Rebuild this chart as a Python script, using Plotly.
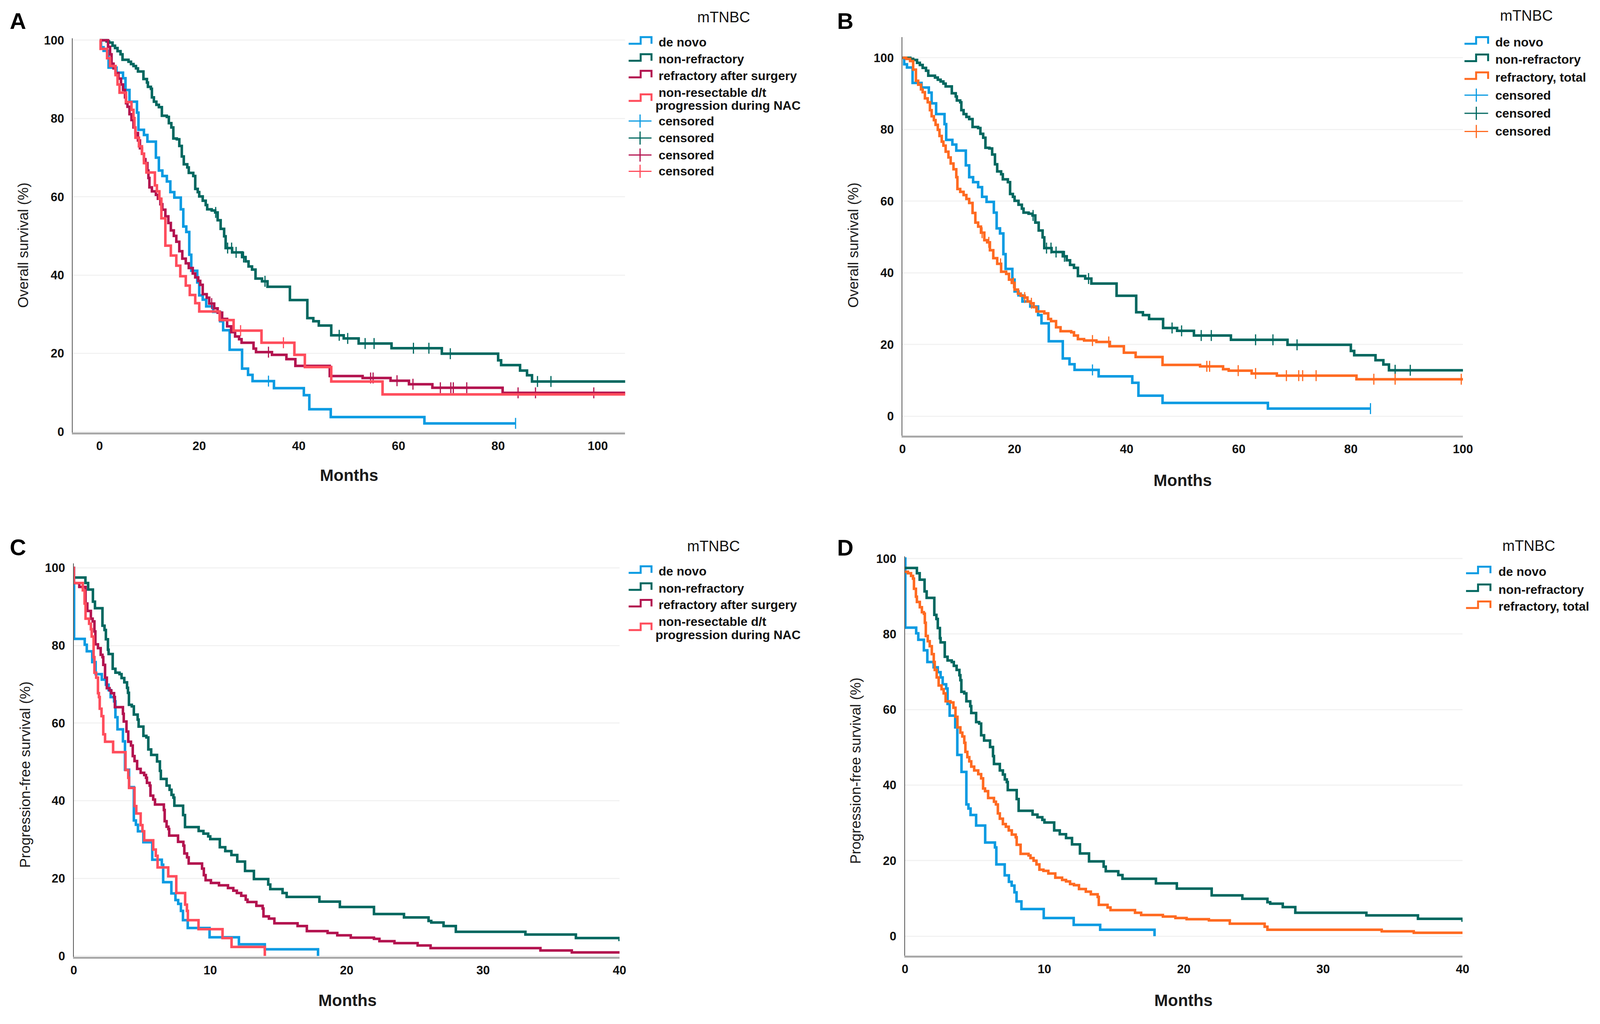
import plotly.graph_objects as go

W, H = 4138, 2621

# ---------------- DATA ----------------
# Overall survival (months, %)
os_denovo_t = [0, 0.3, 0.8, 1.8, 3.4, 4.7, 5.2, 6.0, 7.5, 7.8, 8.9, 9.6, 11.3, 11.9, 12.6, 13.5, 14.2, 15.0, 16.3, 16.8,
               17.4, 18.0, 18.4, 19.6, 20.0, 20.7, 21.4, 22.8, 24.2, 24.8, 26.1, 28.6, 29.8, 30.7, 35.0, 41.0, 42.1, 46.4,
               65.2, 83.5]
os_denovo_s = [100, 98.2, 97.3, 93.0, 91.7, 90.3, 87.3, 84.3, 81.5, 77.1, 75.8, 74.1, 70.0, 66.7, 65.3, 63.9, 61.2, 59.8,
               56.8, 52.4, 51.0, 45.2, 41.1, 38.1, 34.8, 33.7, 32.0, 30.6, 28.2, 25.9, 20.9, 16.1, 14.5, 12.9, 11.1, 9.3,
               5.7, 3.7, 2.1, 2.1]
os_denovo_cens = [33.9, 83.5]

os_nonref_t = [0, 1.4, 1.9, 2.6, 3.1, 3.6, 4.2, 4.6, 5.8, 6.3, 6.8, 7.3, 7.7, 8.8, 9.5, 9.7, 10.3, 10.5, 10.9, 11.4, 11.9,
               12.5, 13.5, 13.9, 14.4, 14.8, 15.5, 16.0, 16.5, 16.9, 17.6, 17.9, 18.8, 19.2, 19.7, 20.0, 20.7, 21.3, 21.6,
               22.5, 23.2, 23.7, 24.3, 25.0, 25.3, 26.6, 28.6, 29.3, 29.9, 30.6, 31.3, 32.6, 33.7, 38.2, 41.7, 42.9, 44.0,
               46.5, 49.0, 52.0, 58.6, 68.7, 80.0, 80.6, 84.4, 85.8, 86.8, 106]
os_nonref_s = [100, 99.7, 99.4, 98.6, 98.0, 97.2, 96.4, 95.0, 94.5, 93.9, 93.4, 92.8, 92.0, 90.1, 89.2, 88.1, 87.6, 85.4,
               84.3, 83.5, 82.9, 80.7, 80.4, 78.8, 77.7, 74.9, 74.7, 73.0, 70.3, 68.3, 67.5, 66.1, 65.3, 62.0, 61.2, 60.1,
               59.0, 57.9, 56.8, 56.5, 56.0, 54.0, 51.8, 49.9, 46.9, 45.8, 44.6, 43.5, 42.2, 41.4, 39.1, 38.4, 37.0, 33.6,
               29.0, 28.2, 27.1, 24.6, 23.8, 22.5, 21.3, 19.9, 18.2, 17.0, 15.6, 14.4, 12.8, 12.8]
os_nonref_cens = [23.3, 25.7, 26.5, 27.4, 28.9, 33.2, 48.1, 49.8, 53.3, 55.1, 63.0, 66.1, 70.4, 87.9, 90.6]

os_refsurg_t = [0, 1.7, 2.1, 2.4, 2.8, 3.2, 3.8, 4.3, 4.7, 5.1, 5.3, 5.6, 6.0, 6.4, 6.8, 7.2, 7.7, 8.1, 8.5, 8.9, 9.2, 9.6,
                9.8, 10.0, 10.5, 11.3, 11.7, 12.2, 12.6, 13.2, 13.8, 14.3, 14.9, 15.4, 16.0, 16.6, 17.3, 17.9, 18.7, 19.2,
                19.8, 20.2, 20.7, 21.5, 22.0, 23.0, 23.7, 24.6, 25.6, 26.4, 27.2, 28.0, 28.5, 30.9, 31.4, 34.6, 37.5, 39.3,
                46.2, 52.8, 58.4, 62.1, 66.8, 80.9, 106]
os_refsurg_s = [100, 98.3, 96.4, 94.0, 92.8, 91.6, 90.2, 88.7, 87.3, 85.4, 83.9, 83.0, 81.1, 79.6, 77.7, 76.3, 74.4, 72.4,
                71.0, 69.6, 68.6, 66.7, 64.8, 62.4, 61.4, 60.5, 59.5, 58.1, 56.7, 55.0, 53.3, 51.4, 50.0, 48.5, 46.1, 44.2,
                43.0, 41.8, 40.4, 39.4, 38.5, 37.5, 35.1, 34.2, 32.7, 31.5, 30.4, 28.8, 26.9, 25.4, 24.3, 23.6, 22.7, 21.2,
                20.3, 19.6, 18.5, 16.8, 14.2, 13.7, 13.0, 12.1, 11.2, 9.9, 9.9]
os_refsurg_cens = [22.5, 33.9, 54.4, 54.9, 59.7, 62.9, 68.4, 70.5, 71.0, 73.7, 84.0, 87.5, 99.2]

os_nonres_t = [0, 0.2, 1.5, 2.1, 3.2, 3.6, 4.0, 5.3, 6.4, 6.8, 7.0, 7.2, 7.9, 8.5, 8.9, 9.4, 11.1, 11.5, 12.0, 12.4, 13.2,
               14.3, 15.4, 16.2, 17.3, 18.1, 19.2, 20.0, 24.1, 26.9, 32.5, 39.1, 41.2, 46.5, 56.8, 106]
os_nonres_s = [100, 97.8, 95.4, 93.4, 91.1, 88.7, 86.6, 84.2, 82.2, 80.1, 77.7, 75.1, 72.9, 71.0, 68.6, 66.2, 62.9, 61.4,
               59.5, 54.5, 47.5, 45.0, 42.4, 39.7, 37.3, 34.9, 32.8, 30.7, 28.5, 25.8, 22.7, 19.6, 16.5, 12.8, 9.5, 9.5]
os_nonres_cens = [28.3, 36.9]

os_reftot_t = [0, 0.65, 1.35, 1.9, 2.4, 2.8, 3.3, 3.6, 4.0, 4.5, 4.9, 5.2, 5.6, 5.9, 6.3, 6.6, 7.0, 7.3, 7.7, 8.2, 8.6,
               9.1, 9.6, 9.8, 10.3, 10.9, 11.4, 11.9, 12.5, 13.0, 13.5, 14.0, 14.6, 15.1, 15.6, 16.2, 16.9, 17.6, 18.5,
               19.0, 19.5, 20.0, 20.6, 21.1, 21.8, 22.3, 22.9, 23.4, 23.9, 25.3, 26.0, 26.5, 27.4, 28.2, 30.1, 30.6, 31.3,
               32.4, 34.6, 37.0, 39.5, 41.6, 46.4, 53.1, 57.2, 58.2, 62.3, 66.8, 81.0, 106]
os_reftot_s = [100, 99.7, 99.1, 96.7, 93.6, 92.5, 91.2, 90.4, 88.7, 87.6, 85.4, 83.7, 82.6, 81.3, 79.9, 78.2, 76.6, 75.5,
               73.8, 72.2, 70.5, 68.9, 66.7, 63.4, 62.6, 61.7, 60.6, 59.5, 56.7, 54.0, 52.9, 51.2, 49.1, 48.5, 46.3, 44.1,
               42.5, 40.3, 39.7, 38.1, 37.2, 35.3, 34.2, 33.6, 33.1, 32.0, 31.5, 30.4, 29.2, 28.7, 27.1, 26.5, 24.8, 23.7,
               23.4, 22.5, 21.5, 21.1, 20.7, 19.5, 17.7, 16.5, 14.3, 13.9, 13.1, 12.7, 11.9, 11.3, 10.3, 10.3]
os_reftot_cens = [14.2, 15.4, 17.5, 19.8, 21.8, 23.0, 33.9, 36.8, 54.3, 54.8, 59.9, 63.0, 68.5, 70.7, 71.4, 73.8, 84.1,
                  87.9, 99.7]

# Progression-free survival (months, %)
pfs_denovo_t = [0, 0.02, 0.8, 0.95, 1.35, 1.6, 2.05, 2.35, 2.55, 2.7, 2.95, 3.05, 3.2, 3.6, 3.75, 4.05, 4.4, 4.55, 4.7,
                5.1, 5.75, 6.45, 6.55, 7.15, 7.45, 7.65, 7.85, 8.0, 8.35, 9.95, 12.1, 14.0, 17.9]
pfs_denovo_s = [100, 81.7, 80.2, 78.5, 75.7, 72.6, 71.2, 69.9, 68.5, 66.7, 65.6, 61.5, 58.4, 55.3, 48.0, 43.5, 34.9, 33.8,
                32.1, 29.3, 24.8, 23.5, 19.0, 16.1, 14.4, 13.4, 11.6, 9.2, 7.2, 4.8, 3.0, 1.7, 0]

pfs_nonref_t = [0, 0.85, 1.05, 1.4, 1.55, 2.1, 2.25, 2.35, 2.5, 2.55, 2.85, 3.05, 3.35, 3.5, 3.7, 3.9, 3.97, 4.04, 4.25,
                4.4, 4.68, 4.75, 5.1, 5.32, 5.46, 5.67, 6.1, 6.31, 6.38, 6.8, 7.02, 7.16, 7.3, 7.37, 8.01, 8.15, 9.15, 9.5,
                9.85, 10.0, 10.7, 11.1, 11.55, 11.98, 12.55, 13.2, 14.25, 14.4, 15.3, 15.6, 18.0, 19.5, 22.0, 24.2, 26.0,
                26.2, 27.1, 28.0, 33.1, 36.8, 40.0]
pfs_nonref_s = [97.5, 96.1, 94.4, 91.3, 89.6, 85.1, 84.0, 81.6, 78.9, 77.8, 74.0, 73.0, 72.6, 71.6, 70.5, 69.1, 67.8, 64.7,
                64.3, 62.2, 60.9, 59.1, 56.7, 56.3, 53.2, 51.8, 50.1, 47.7, 45.6, 43.9, 42.8, 41.5, 40.8, 38.7, 36.3, 33.2,
                32.2, 31.5, 30.8, 30.1, 28.0, 27.0, 26.0, 24.3, 21.9, 19.8, 18.4, 17.2, 16.2, 15.2, 14.0, 12.6, 10.8, 9.9,
                9.0, 8.6, 7.7, 6.2, 5.5, 4.6, 3.8]

pfs_refsurg_t = [0, 0.4, 0.86, 0.99, 1.25, 1.38, 1.51, 1.58, 1.77, 1.97, 2.1, 2.16, 2.29, 2.42, 2.62, 2.75, 2.95, 3.01,
                 3.6, 3.66, 3.86, 3.99, 4.19, 4.32, 4.45, 4.64, 4.9, 5.16, 5.29, 5.36, 5.56, 5.62, 5.82, 5.95, 6.6, 6.66,
                 6.8, 6.93, 6.99, 7.64, 8.03, 8.1, 8.3, 8.42, 9.4, 9.53, 9.66, 10.05, 10.64, 11.3, 11.69, 11.95, 12.27,
                 12.6, 12.73, 13.38, 13.84, 13.9, 14.3, 14.7, 16.4, 17.08, 18.6, 19.31, 20.3, 22.0, 22.4, 23.5, 25.2,
                 26.15, 34.2, 36.5, 40]
pfs_refsurg_s = [96.1, 95.1, 90.8, 88.9, 86.9, 86.2, 83.6, 80.3, 79.3, 77.6, 77.0, 75.0, 71.7, 69.0, 68.4, 67.7, 66.7,
                 64.1, 62.4, 60.4, 57.8, 55.2, 54.2, 51.5, 50.2, 48.2, 47.2, 46.6, 45.9, 44.6, 43.9, 41.3, 40.3, 39.0,
                 37.6, 34.7, 33.3, 32.7, 31.0, 29.4, 28.4, 26.4, 25.4, 23.8, 22.5, 20.8, 19.5, 18.8, 18.2, 17.5, 16.8,
                 16.2, 15.5, 14.5, 13.9, 12.9, 12.2, 10.2, 9.6, 8.4, 7.7, 6.4, 5.9, 5.3, 4.7, 4.4, 3.8, 3.3, 2.7, 2.0,
                 1.4, 0.9, 0.9]

pfs_nonres_t = [0, 0.01, 0.66, 0.79, 0.86, 1.12, 1.25, 1.31, 1.45, 1.51, 1.64, 1.77, 1.84, 1.9, 2.03, 2.16, 2.29, 2.88,
                3.79, 3.99, 4.05, 4.45, 4.58, 4.9, 5.03, 5.16, 5.82, 6.01, 6.14, 6.92, 7.51, 8.16, 8.29, 8.36, 9.14, 10.9,
                11.56, 14.0]
pfs_nonres_s = [100, 96.1, 94.2, 90.8, 86.9, 85.6, 84.2, 82.3, 77.0, 73.0, 71.7, 67.7, 66.7, 63.7, 61.8, 57.1, 55.2, 52.5,
                47.9, 45.9, 43.3, 38.6, 36.7, 33.7, 32.1, 29.8, 27.4, 25.8, 22.8, 20.5, 16.2, 13.2, 11.6, 9.2, 6.9, 4.6,
                2.3, 0]

pfs_reftot_t = [0, 0.21, 0.43, 0.57, 0.64, 0.78, 0.85, 1.06, 1.21, 1.35, 1.42, 1.49, 1.63, 1.77, 1.92, 2.06, 2.13, 2.27,
                2.41, 2.62, 2.77, 2.91, 3.26, 3.47, 3.62, 3.76, 3.97, 4.11, 4.25, 4.33, 4.47, 4.61, 4.75, 4.96, 5.25,
                5.46, 5.6, 5.74, 5.96, 6.38, 6.52, 6.66, 6.8, 7.02, 7.23, 7.44, 7.66, 7.94, 8.01, 8.29, 8.86, 9.0, 9.22,
                9.43, 9.64, 9.93, 10.28, 10.78, 11.27, 11.55, 11.84, 12.12, 12.48, 12.97, 13.33, 13.82, 13.9, 14.53,
                14.74, 16.5, 16.94, 18.5, 19.4, 20.2, 21.8, 23.3, 25.8, 26.0, 34.2, 36.5, 40]
pfs_reftot_s = [96.5, 96.1, 95.4, 94.7, 92.0, 89.9, 88.5, 87.1, 85.8, 85.4, 83.0, 79.5, 78.1, 76.8, 74.7, 72.6, 70.5, 68.5,
                66.4, 65.4, 64.3, 62.2, 61.9, 60.5, 58.1, 55.3, 53.9, 52.9, 51.2, 48.8, 47.4, 46.3, 44.9, 43.9, 42.9,
                41.8, 39.1, 38.4, 36.6, 35.6, 34.9, 32.5, 31.1, 29.7, 29.0, 28.0, 26.9, 26.2, 24.2, 21.8, 21.4, 20.7,
                20.0, 19.0, 17.6, 17.3, 16.6, 15.5, 14.9, 14.5, 13.8, 13.5, 12.5, 11.8, 11.1, 10.4, 8.3, 7.6, 6.9, 6.2,
                5.6, 5.2, 4.8, 4.5, 4.2, 3.3, 2.5, 1.7, 1.3, 0.9, 0.9]

# Labels
legend_title = "mTNBC"
labels_4 = ["de novo", "non-refractory", "refractory after surgery"]
label_nonres = ["non-resectable d/t", "progression during NAC"]
labels_3 = ["de novo", "non-refractory", "refractory, total"]
censor_label = "censored"
panel_letters = ["A", "B", "C", "D"]
os_title = "Overall survival (%)"
pfs_title = "Progression-free survival (%)"
x_title = "Months"
ticks_os_x = [0, 20, 40, 60, 80, 100]
ticks_pfs_x = [0, 10, 20, 30, 40]
ticks_y = [0, 20, 40, 60, 80, 100]

# ---------------- STYLE ----------------
BLUE = "#0A9BE2"
TEAL = "#00675F"
CRIMSON = "#B3134F"
RED = "#FF4D5C"
ORANGE = "#FF6A21"
SANS = "Liberation Sans, Arial, sans-serif"
LW = 6.5
OFF = -10  # global pixel offset (compensates page offset)

for a, b in [(os_denovo_t, os_denovo_s), (os_nonref_t, os_nonref_s), (os_refsurg_t, os_refsurg_s),
             (os_nonres_t, os_nonres_s), (os_reftot_t, os_reftot_s), (pfs_denovo_t, pfs_denovo_s),
             (pfs_nonref_t, pfs_nonref_s), (pfs_refsurg_t, pfs_refsurg_s), (pfs_nonres_t, pfs_nonres_s),
             (pfs_reftot_t, pfs_reftot_s)]:
    assert len(a) == len(b), (len(a), len(b))


def surv_at(ts, ss, t):
    v = ss[0]
    for ti, si in zip(ts, ss):
        if ti <= t:
            v = si
        else:
            break
    return v


def px(x):
    return (x + OFF) / W


def py(y):
    return 1 - (y + OFF) / H


fig = go.Figure()


def add_curve(ts, ss, color, ax, cens=None):
    xa, ya = ax
    fig.add_trace(go.Scatter(x=ts, y=ss, mode="lines", line=dict(shape="hv", color=color, width=LW),
                             xaxis=xa, yaxis=ya, showlegend=False, hoverinfo="skip"))
    if cens:
        fig.add_trace(go.Scatter(x=cens, y=[surv_at(ts, ss, c) for c in cens], mode="markers",
                                 marker=dict(symbol="line-ns", size=20, color=color, line=dict(width=3, color=color)),
                                 xaxis=xa, yaxis=ya, showlegend=False, hoverinfo="skip", cliponaxis=False))


A = ("x", "y")
add_curve(os_denovo_t, os_denovo_s, BLUE, A, os_denovo_cens)
add_curve(os_nonref_t, os_nonref_s, TEAL, A, os_nonref_cens)
add_curve(os_refsurg_t, os_refsurg_s, CRIMSON, A, os_refsurg_cens)
add_curve(os_nonres_t, os_nonres_s, RED, A, os_nonres_cens)
B = ("x2", "y2")
add_curve(os_denovo_t, os_denovo_s, BLUE, B, os_denovo_cens)
add_curve(os_nonref_t, os_nonref_s, TEAL, B, os_nonref_cens)
add_curve(os_reftot_t, os_reftot_s, ORANGE, B, os_reftot_cens)
C = ("x3", "y3")
add_curve(pfs_denovo_t, pfs_denovo_s, BLUE, C)
add_curve(pfs_nonref_t, pfs_nonref_s, TEAL, C)
add_curve(pfs_refsurg_t, pfs_refsurg_s, CRIMSON, C)
add_curve(pfs_nonres_t, pfs_nonres_s, RED, C)
D = ("x4", "y4")
add_curve(pfs_denovo_t, pfs_denovo_s, BLUE, D)
add_curve(pfs_nonref_t, pfs_nonref_s, TEAL, D)
add_curve(pfs_reftot_t, pfs_reftot_s, ORANGE, D)

tickfont = dict(family=SANS, size=31, color="#111111", weight="bold")


def dom_x(a, b):
    return [(a + OFF) / W, (b + OFF) / W]


def dom_y(bottom_px, top_px):
    return [1 - (bottom_px + OFF) / H, 1 - (top_px + OFF) / H]


def xaxis(dom, rng, ticks, anchor):
    return dict(domain=dom, range=rng, tickvals=ticks, showgrid=False, zeroline=False, showline=True,
                linecolor="#A9A9A9", linewidth=5, ticks="", tickfont=tickfont, ticklabelstandoff=3,
                anchor=anchor, fixedrange=True)


def yaxis(dom, rng, anchor):
    return dict(domain=dom, range=rng, tickvals=ticks_y, showgrid=True, gridcolor="#F2F2F2", gridwidth=3,
                zeroline=False, showline=True, linecolor="#555555", linewidth=2, ticks="", tickfont=tickfont,
                ticklabelstandoff=14, anchor=anchor, fixedrange=True)


fig.update_layout(
    width=W, height=H, margin=dict(l=0, r=0, t=0, b=0),
    plot_bgcolor="white", paper_bgcolor="white", showlegend=False,
    xaxis=xaxis(dom_x(189, 1615), [-5.37, 105.5], ticks_os_x, "y"),
    yaxis=yaxis(dom_y(1116.5, 96.9), [-0.2, 100.5], "x"),
    xaxis2=xaxis(dom_x(2331, 3778), [0, 100], ticks_os_x, "y2"),
    yaxis2=yaxis(dom_y(1125, 93.7), [-5.45, 105.8], "x2"),
    xaxis3=xaxis(dom_x(191.5, 1600.5), [0, 40], ticks_pfs_x, "y3"),
    yaxis3=yaxis(dom_y(2473, 1455), [-0.2, 101.2], "x3"),
    xaxis4=xaxis(dom_x(2337.6, 3777), [0, 40], ticks_pfs_x, "y4"),
    yaxis4=yaxis(dom_y(2469.8, 1437.1), [-5.1, 100.6], "x4"),
)

annotations = []
shapes = []


def text(x, y, s, font, xanchor="center", angle=0):
    annotations.append(dict(x=px(x), y=py(y), xref="paper", yref="paper", text=s, showarrow=False,
                            xanchor=xanchor, yanchor="middle", font=font, textangle=angle))


letter_font = dict(family=SANS, size=58, color="#000000", weight="bold")
for (lx, ly), s in zip([(47, 52), (2183, 52), (47, 1413), (2183, 1415)], panel_letters):
    text(lx, ly, s, letter_font)

ytf = dict(family=SANS, size=37, color="#1A1A1A")
text(61, 632, os_title, ytf, angle=-90)
text(2204, 632, os_title, ytf, angle=-90)
text(66, 2002, pfs_title, ytf, angle=-90)
text(2210, 1992, pfs_title, ytf, angle=-90)
xtf = dict(family=SANS, size=42, color="#1A1A1A", weight="bold")
text(902, 1228, x_title, xtf)
text(3054, 1241, x_title, xtf)
text(898, 2586, x_title, xtf)
text(3056, 2586, x_title, xtf)

legfont = dict(family=SANS, size=32, color="#111111", weight="bold")
titlefont = dict(family=SANS, size=38, color="#111111")


def step_glyph(x0, xs, x1, yc, color):
    yb, yt = yc + 8, yc - 9
    path = (f"M {px(x0)},{py(yb)} L {px(xs)},{py(yb)} L {px(xs)},{py(yt)} "
            f"L {px(x1)},{py(yt)} L {px(x1)},{py(yb)}")
    shapes.append(dict(type="path", path=path, xref="paper", yref="paper",
                       line=dict(color=color, width=5)))


def cens_glyph(x0, x1, yc, color):
    xm = (x0 + x1) / 2
    shapes.append(dict(type="line", x0=px(x0), x1=px(x1), y0=py(yc), y1=py(yc), xref="paper", yref="paper",
                       line=dict(color=color, width=3)))
    shapes.append(dict(type="line", x0=px(xm), x1=px(xm), y0=py(yc - 17), y1=py(yc + 17), xref="paper",
                       yref="paper", line=dict(color=color, width=3)))


def legend4(dy, title_x):
    text(title_x, 42 + dy, legend_title, titlefont)
    x0, xs, x1, xt = 1624, 1655, 1683, 1699
    rows = [107, 151, 194]
    for r, lab, col in zip(rows, labels_4, [BLUE, TEAL, CRIMSON]):
        step_glyph(x0, xs, x1, r - 4 + dy, col)
        text(xt, r + dy, lab, legfont, xanchor="left")
    step_glyph(x0, xs, x1, 251 + dy, RED)
    text(xt, 237 + dy, label_nonres[0], legfont, xanchor="left")
    text(xt - 8, 271 + dy, label_nonres[1], legfont, xanchor="left")
    return x0, x1, xt


def legend3(x0, xs, x1, xt, title_xy, rows):
    text(title_xy[0], title_xy[1], legend_title, titlefont)
    for r, lab, col in zip(rows, labels_3, [BLUE, TEAL, ORANGE]):
        step_glyph(x0, xs, x1, r - 4, col)
        text(xt, r, lab, legfont, xanchor="left")


x0, x1, xt = legend4(0, 1869)
for r, col in zip([311, 355, 399, 441], [BLUE, TEAL, CRIMSON, RED]):
    cens_glyph(x0, x1, r, col)
    text(xt, r, censor_label, legfont, xanchor="left")
legend4(1369, 1843)
legend3(3782, 3812, 3843, 3860, (3942, 38), [107, 152, 198])
for r, col in zip([244, 291, 338], [BLUE, TEAL, ORANGE]):
    cens_glyph(3782, 3843, r, col)
    text(3860, r, censor_label, legfont, xanchor="left")
legend3(3786, 3817, 3849, 3868, (3948, 1410), [1477, 1523, 1567])

fig.update_layout(annotations=annotations, shapes=shapes)

fig.write_html("out.html", include_plotlyjs=True, full_html=True,
               config={"displayModeBar": False},
               post_script="document.body.style.margin='0';document.body.style.padding='0';")
